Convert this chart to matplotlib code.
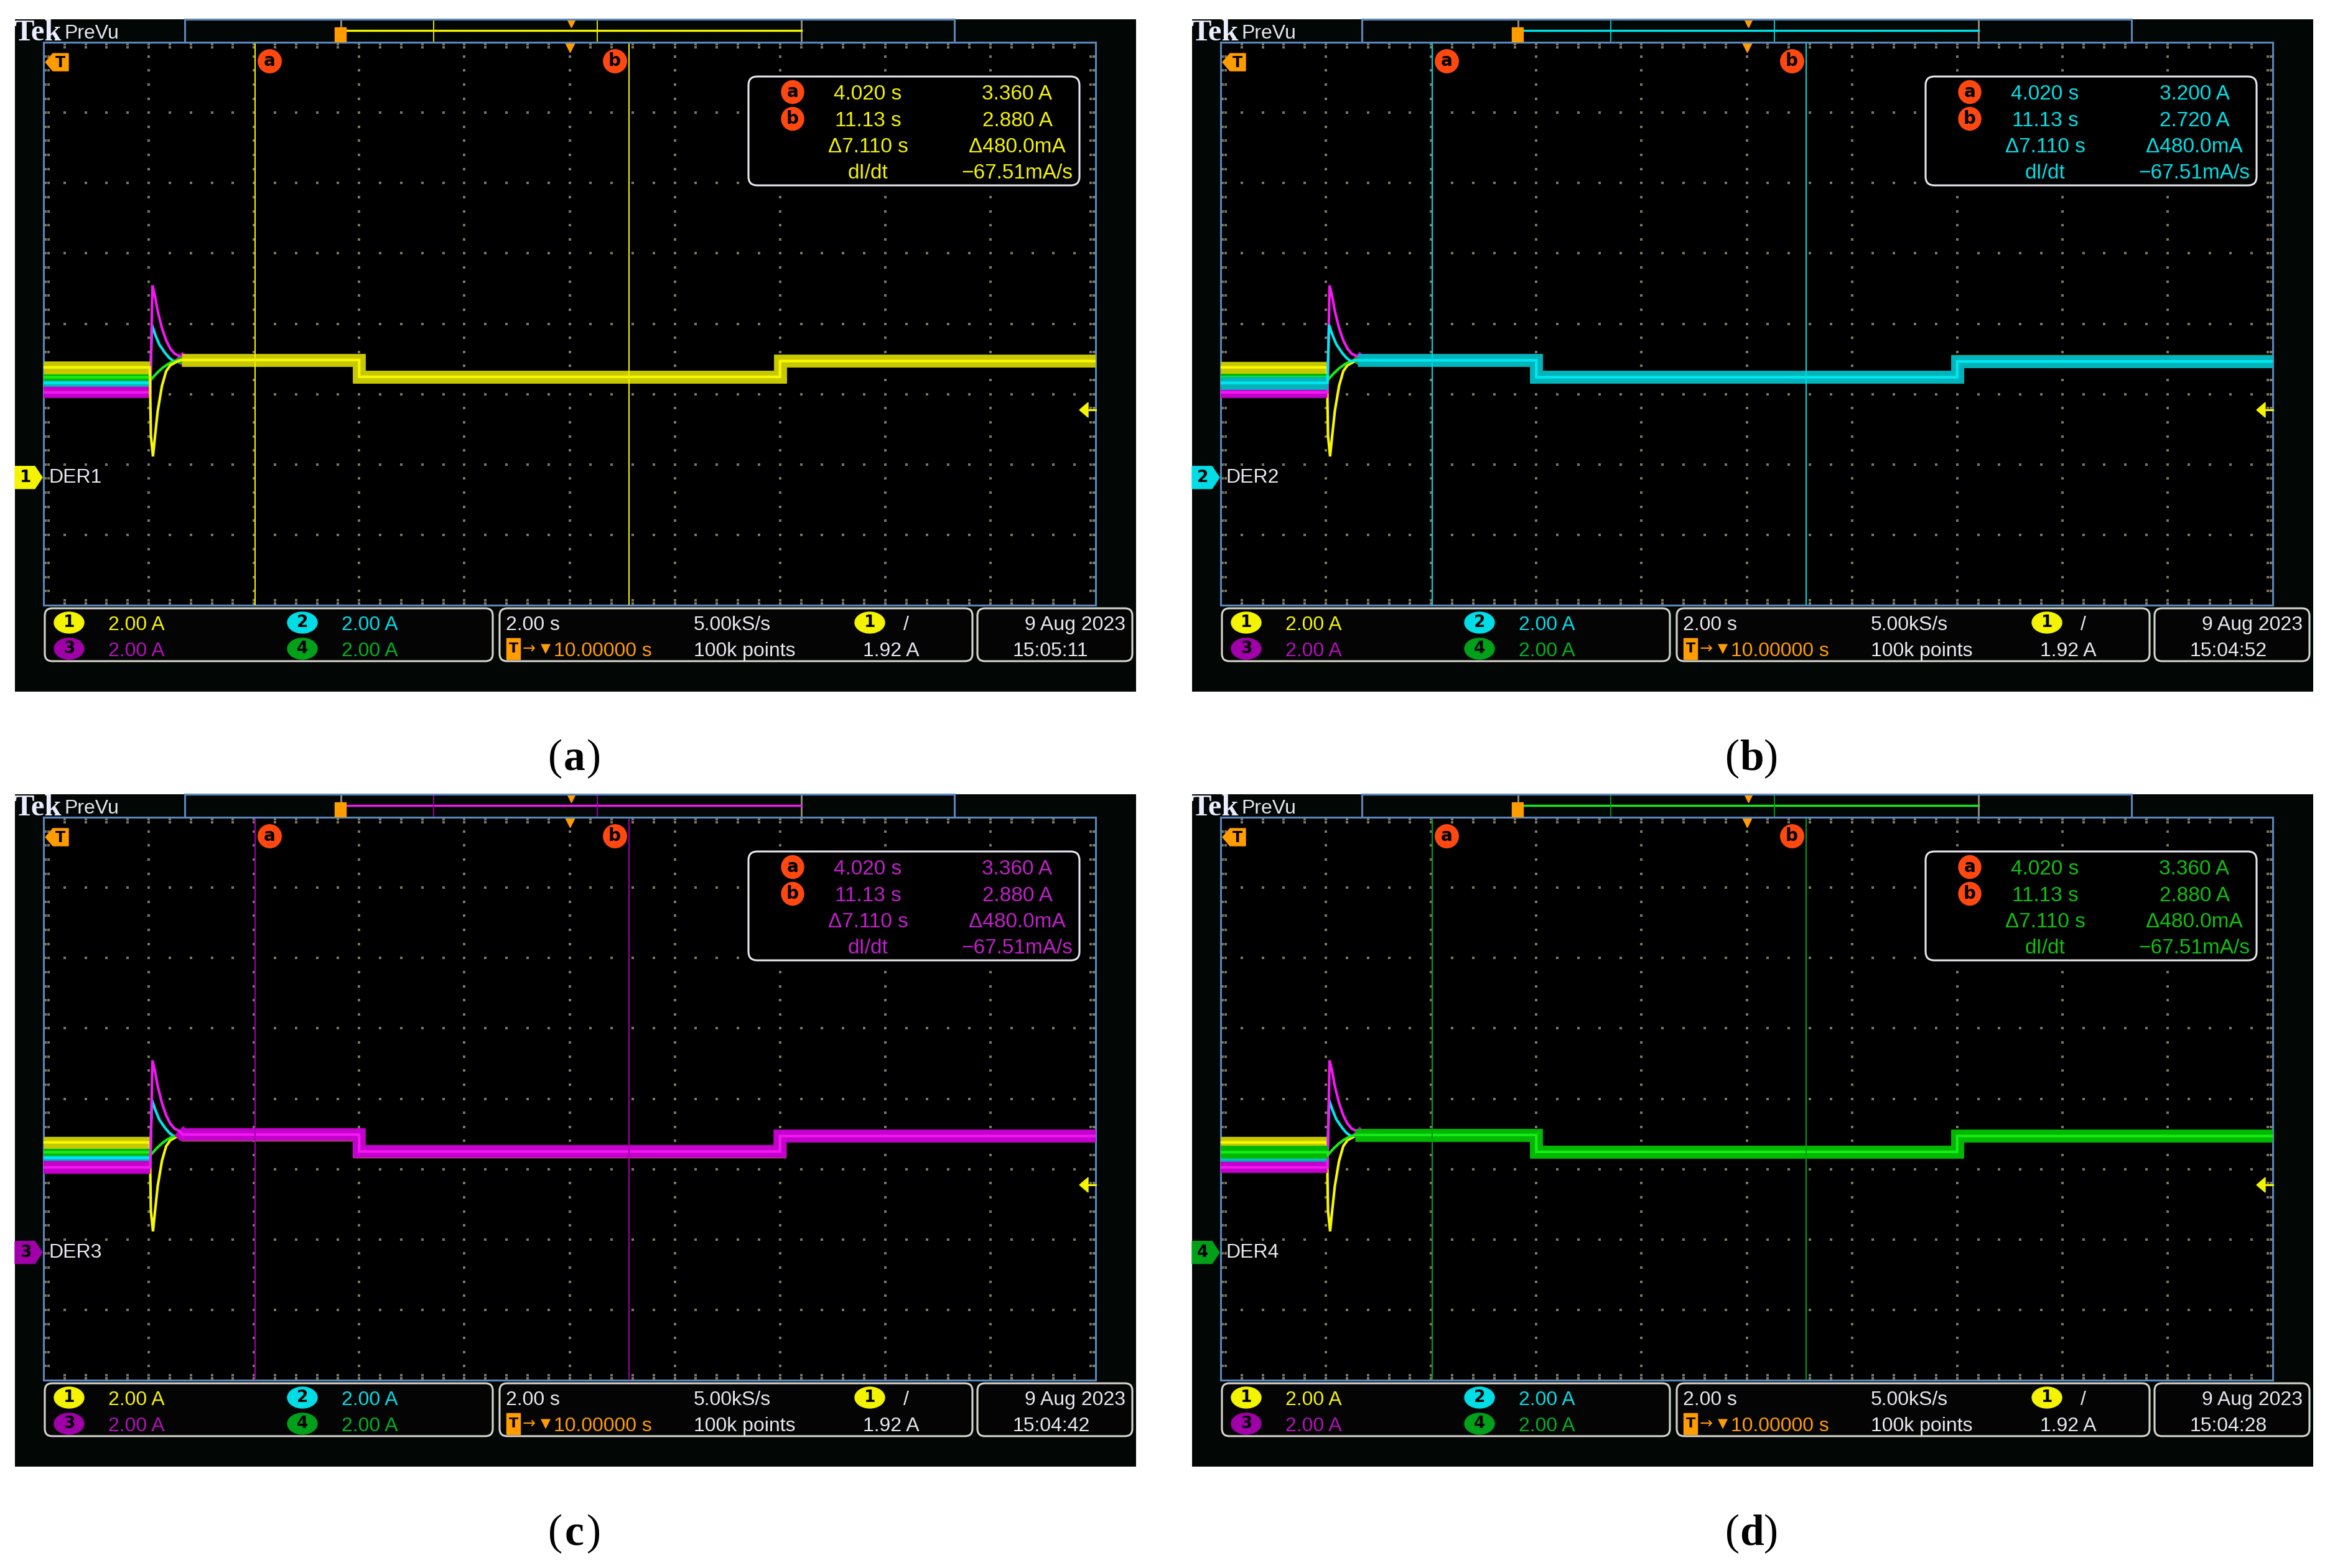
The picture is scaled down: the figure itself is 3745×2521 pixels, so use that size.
import numpy as np
import matplotlib
matplotlib.use('Agg')
import matplotlib.pyplot as plt
from matplotlib.patches import FancyBboxPatch, Polygon, Ellipse, Rectangle
from matplotlib.transforms import blended_transform_factory as blend, ScaledTranslation

# ---- waveforms (time in s, current in A) ----
ch1_t = [0.0, 2.02, 2.04, 2.08, 2.12, 2.17, 2.25, 2.33, 2.41, 2.52, 2.62, 6.0, 6.0, 14.0, 14.0, 20.0]
ch1_i = [3.13, 3.13, 1.19, 0.60, 1.19, 1.89, 2.60, 3.02, 3.19, 3.28, 3.34, 3.34, 2.86, 2.86, 3.31, 3.31]
ch2_t = [0.0, 2.03, 2.06, 2.12, 2.20, 2.31, 2.39, 2.47, 2.60, 6.0, 6.0, 14.0, 14.0, 20.0]
ch2_i = [2.69, 2.69, 4.34, 4.07, 3.78, 3.54, 3.40, 3.31, 3.33, 3.33, 2.85, 2.85, 3.30, 3.30]
ch3_t = [0.0, 2.03, 2.07, 2.12, 2.17, 2.25, 2.33, 2.41, 2.49, 2.57, 2.65, 6.0, 6.0, 14.0, 14.0, 20.0]
ch3_i = [2.42, 2.42, 5.46, 5.14, 4.73, 4.25, 3.90, 3.66, 3.52, 3.46, 3.35, 3.35, 2.87, 2.87, 3.31, 3.31]
ch4_t = [0.0, 2.03, 2.04, 2.15, 2.25, 2.36, 2.44, 2.55, 6.0, 6.0, 14.0, 14.0, 20.0]
ch4_i = [2.85, 2.85, 2.78, 2.96, 3.10, 3.22, 3.28, 3.34, 3.34, 2.86, 2.86, 3.31, 3.31]

names = ['DER1', 'DER2', 'DER3', 'DER4']
stamps = ['15:05:11', '15:04:52', '15:04:42', '15:04:28']
letters = ['a', 'b', 'c', 'd']
cursor_t = [4.020, 11.13]
cursor_a_amp = [3.360, 3.200, 3.360, 3.360]
cursor_b_amp = [2.880, 2.720, 2.880, 2.880]

# scope settings
VDIV = 2.0          # A/div
SDIV = 2.0          # s/div
DELAY = 10.0        # s
TRIG = 1.92         # A
OFFSET_DIV = -2.185 # ground position, div from centre

T = [ch1_t, ch2_t, ch3_t, ch4_t]
I = [ch1_i, ch2_i, ch3_i, ch4_i]

TRACE = ['#f8f800', '#00e8f0', '#f418f4', '#18ec18']
HALO = ['#c8c800', '#00b4bc', '#c400cc', '#00b800']
HALO_W = [14, 8, 13, 8]
BADGE = ['#f4f400', '#00dde6', '#a000a8', '#00a018']
LABEL = ['#f4f400', '#00dde6', '#b010b8', '#00b020']
CURSOR = ['#f0f000', '#00d8e0', '#a000a8', '#00a018']
READ = ['#f4f400', '#00e0e8', '#c020c8', '#10c010']
GRID = '#7c7660'
BLUE = '#5a88bd'
SCREEN = '#020604'
WHITE = '#e8e8f0'
ORANGE = '#ff9c00'
RED = '#ff4810'

FS = 23
FAM = ['Liberation Sans', 'DejaVu Sans']

W, H = 3745, 2521
PW, PH = 1802, 1081
GX, GY, GW, GH = 46, 37, 1691, 905

fig = plt.figure(figsize=(W / 100, H / 100), dpi=100)
fig.patch.set_facecolor('white')


def px_axes(x, y, w, h):
    return fig.add_axes([x / W, 1 - (y + h) / H, w / W, h / H])


def stext(ax, x, y, s, color, ha='left', size=FS, **kw):
    ax.text(x, y + 12, s, color=color, ha=ha, va='baseline', fontsize=size, family=FAM, **kw)


def graticule(g):
    px, py = 1 / GW, 1 / GH
    mx = np.arange(1, 50) / 50
    my = np.arange(1, 40) / 40
    xs, ys = [], []
    for i in range(1, 10):
        xs += [i / 10] * len(my); ys += list(my)
    for k in range(1, 8):
        xs += list(mx); ys += [k / 8] * len(mx)
    for d in (3, 8):
        xs += [d * px] * 39 + [1 - d * px] * 39; ys += list(my) * 2
        xs += list(mx) * 2; ys += [1 - d * py] * 49 + [d * py] * 49
    g.scatter(xs, ys, s=5, marker='s', c=GRID, lw=0, transform=g.transAxes, zorder=1)


def draw_panel(ox, oy, sel):
    bg = px_axes(ox, oy, PW, PH)
    bg.set_xlim(0, PW); bg.set_ylim(PH, 0); bg.axis('off')
    bg.add_patch(Rectangle((0, 0), PW, PH, color=SCREEN, zorder=0))

    # graticule area
    g = px_axes(ox + GX, oy + GY, GW, GH)
    centre = -OFFSET_DIV * VDIV
    g.set_xlim(DELAY - 5 * SDIV, DELAY + 5 * SDIV)
    g.set_ylim(centre - 4 * VDIV, centre + 4 * VDIV)
    g.set_facecolor('black')
    g.set_xticks([]); g.set_yticks([])
    for s in g.spines.values():
        s.set_color(BLUE); s.set_linewidth(2.2)
    graticule(g)

    order = [c for c in range(4) if c != sel] + [sel]
    for c in order:
        t = np.array(T[c]); i = np.array(I[c])
        halo = np.where((t > 2.035) & (t < 2.545), np.nan, i)
        hw = 15 if c == sel else HALO_W[c]
        g.plot(t, halo, color=HALO[c], lw=hw, solid_capstyle='butt', solid_joinstyle='miter', zorder=3)
        g.plot(t, i, color=TRACE[c], lw=3.0, solid_joinstyle='miter', zorder=3)

    for ct in cursor_t:
        g.axvline(ct, color=CURSOR[sel], lw=1.5, zorder=4)

    xa = blend(g.transData, g.transAxes)
    # trigger position marker
    g.plot([DELAY], [1 - 8 / GH], marker='v', ms=11, color=ORANGE, mec=ORANGE,
           transform=xa, clip_on=False, zorder=6)
    # cursor labels
    for ct, lab, dx in zip(cursor_t, 'ab', (0.23, -0.23)):
        tr = xa + ScaledTranslation(dx, 0, fig.dpi_scale_trans)
        g.plot([ct], [1 - 30 / GH], marker='o', ms=27, color=RED, mec=RED,
               transform=tr, clip_on=False, zorder=6)
        g.text(ct, 1 - 30 / GH, lab, transform=tr, ha='center', va='center',
               fontsize=20, fontweight='bold', color='black', zorder=7)

    # trigger level arrow (right)
    ty = blend(g.transAxes, g.transData)
    k = 4 * VDIV * 2 / GH
    g.add_patch(Polygon([(1 - 26 / GW, TRIG), (1 - 12 / GW, TRIG + 12 * k), (1 - 12 / GW, TRIG - 12 * k)],
                        closed=True, color='#f4f400', transform=ty, clip_on=False, zorder=6))
    g.plot([1 - 14 / GW, 1], [TRIG, TRIG], color='#f4f400', lw=2.2, transform=ty, clip_on=False, zorder=6)

    # preview bar
    pv = px_axes(ox + 273, oy, 1237, 37)
    pv.set_xlim(-6.78, 26.65); pv.set_ylim(0, 1)
    pv.set_facecolor('#020604')
    pv.set_xticks([]); pv.set_yticks([])
    for s in pv.spines.values():
        s.set_color(BLUE); s.set_linewidth(2.2)
    for e in (0, 20):
        pv.axvline(e, color='#9a9080', lw=2)
    pv.plot([0, 20], [0.52, 0.52], color=TRACE[sel], lw=2.4)
    for ct in cursor_t:
        pv.axvline(ct, color=CURSOR[sel], lw=1.3)
    pv.add_patch(Rectangle((-0.27, 0.0), 0.49, 0.66, color=ORANGE, zorder=5))
    pv.plot([DELAY], [0.82], marker='v', ms=8, color=ORANGE, mec=ORANGE)

    # overlay
    ov = px_axes(ox, oy, PW, PH)
    ov.set_xlim(0, PW); ov.set_ylim(PH, 0); ov.axis('off')

    ov.text(-2, 34, 'Tek', color='#ececff', fontsize=35, fontweight='bold',
            family=['Liberation Serif', 'DejaVu Serif'], va='baseline')
    ov.text(79, 31, 'PreVu', color=WHITE, fontsize=FS, family=FAM, va='baseline')

    # trigger 'T' marker at upper left
    ov.add_patch(Polygon([(49, 69), (61, 55), (86, 55), (86, 83), (61, 83)], closed=True, color=ORANGE))
    ov.text(73, 70, 'T', color='black', fontsize=17, fontweight='bold', ha='center', va='center')

    # channel ground marker
    gy = blend(ov.transData, g.transData)
    h = 18 * k
    ov.add_patch(Polygon([(0, -h), (32, -h), (44, 0), (32, h), (0, h)], closed=True,
                         color=BADGE[sel], transform=gy, clip_on=False))
    ov.text(17, 0, str(sel + 1), transform=gy, color='black', fontsize=19, fontweight='bold',
            ha='center', va='center')
    ov.text(54, 0, names[sel], transform=gy, color=WHITE, fontsize=FS, family=FAM, va='center')

    # cursor readout
    ov.add_patch(FancyBboxPatch((1179, 92), 532, 175, boxstyle='round,pad=0,rounding_size=14',
                                fc='black', ec=WHITE, lw=2.2))
    rows = [117, 160, 202, 244]
    ta, tb = cursor_t
    ia, ib = cursor_a_amp[sel], cursor_b_amp[sel]
    col1 = [f'{ta:.3f} s', f'{tb:.2f} s', f'\u0394{tb - ta:.3f} s', 'dI/dt']
    col2 = [f'{ia:.3f} A', f'{ib:.3f} A', f'\u0394{(ia - ib) * 1000:.1f}mA',
            f'\u2212{(ia - ib) / (tb - ta) * 1000:.2f}mA/s']
    for r, lab in zip(rows[:2], 'ab'):
        ov.add_patch(Ellipse((1250, r), 36, 37, color=RED))
        ov.text(1250, r, lab, color='black', fontsize=20, fontweight='bold', ha='center', va='center')
    for r, s1, s2 in zip(rows, col1, col2):
        stext(ov, 1371, r, s1, READ[sel], ha='center', size=FS + 1)
        stext(ov, 1611, r, s2, READ[sel], ha='center', size=FS + 1)

    # bottom readouts
    for x0, w in [(48, 720), (779, 760), (1547, 249)]:
        ov.add_patch(FancyBboxPatch((x0, 947), w, 85, boxstyle='round,pad=0,rounding_size=12',
                                    fc='#040404', ec='#d8d8d0', lw=2.2))
    r1, r2 = 970, 1012
    for (bx, by, c) in [(87, r1, 0), (462, r1, 1), (87, r2, 2), (462, r2, 3)]:
        ov.add_patch(Ellipse((bx, by), 48, 34, color=BADGE[c]))
        ov.text(bx, by, str(c + 1), color='black', fontsize=19, fontweight='bold', ha='center', va='center')
        stext(ov, bx + 63, by, f'{VDIV:.2f} A', LABEL[c])
    stext(ov, 789, r1, f'{SDIV:.2f} s', WHITE)
    stext(ov, 1091, r1, '5.00kS/s', WHITE)
    ov.add_patch(Ellipse((1374, r1), 48, 34, color=BADGE[0]))
    ov.text(1374, r1, '1', color='black', fontsize=19, fontweight='bold', ha='center', va='center')
    stext(ov, 1428, r1, '/', WHITE)
    ov.add_patch(Rectangle((790, r2 - 17), 22, 34, color=ORANGE))
    ov.text(801, r2, 'T', color='black', fontsize=16, fontweight='bold', ha='center', va='center')
    ov.text(826, r2, '\u2192', color=ORANGE, fontsize=18, ha='center', va='center', family='DejaVu Sans')
    ov.text(853, r2, '\u25bc', color=ORANGE, fontsize=15, ha='center', va='center', family='DejaVu Sans')
    stext(ov, 866, r2, f'{DELAY:.5f} s', ORANGE)
    stext(ov, 1091, r2, '100k points', WHITE)
    stext(ov, 1363, r2, f'{TRIG:.2f} A', WHITE)
    stext(ov, 1785, r1, '9 Aug 2023', WHITE, ha='right')
    stext(ov, 1604, r2, stamps[sel], WHITE)

    # caption
    cx, base = ox + PW / 2, oy + 1206
    cap = dict(fontsize=50, color='black', family=['Liberation Serif', 'DejaVu Serif'],
               va='baseline', ha='center')
    fig.text((cx - 32) / W, 1 - base / H, '(', **cap)
    fig.text((cx - 2) / W, 1 - base / H, letters[sel], fontweight='bold', **cap)
    fig.text((cx + 29) / W, 1 - base / H, ')', **cap)


origins = [(24, 31), (1916, 31), (24, 1277), (1916, 1277)]
for sel, (ox, oy) in enumerate(origins):
    draw_panel(ox, oy, sel)

fig.savefig('out.png', dpi=100, facecolor='white')
